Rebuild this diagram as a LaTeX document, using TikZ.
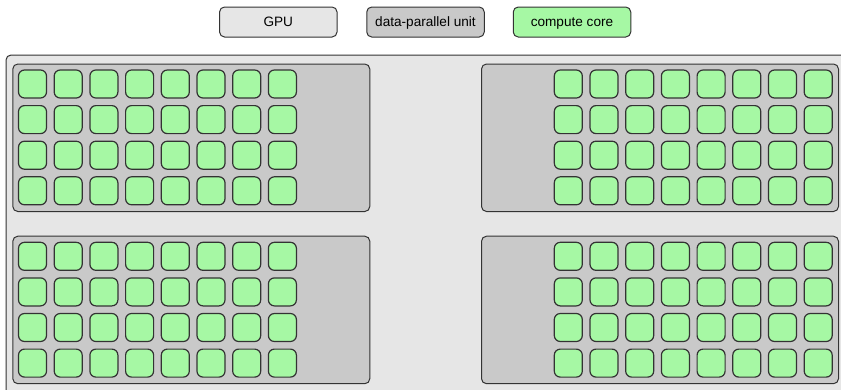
\documentclass[tikz,border=0pt]{standalone}
\usepackage{fontspec}
\setmainfont{Liberation Sans}
\definecolor{gpufill}{RGB}{230,230,230}
\definecolor{dpufill}{RGB}{201,201,201}
\definecolor{corefill}{RGB}{166,248,164}
\definecolor{edgecol}{RGB}{51,51,51}
\begin{document}
\begin{tikzpicture}[x=1pt,y=-1pt,
  box/.style={draw=edgecol, line width=1pt, rounded corners=5pt, inner sep=0pt},
  gpubox/.style={box, fill=gpufill},
  dpubox/.style={box, fill=dpufill, minimum width=357pt, minimum height=147.5pt, anchor=north west},
  corebox/.style={box, fill=corefill, minimum width=28pt, minimum height=28pt, rounded corners=6pt, line width=1.2pt},
  legendbox/.style={box, minimum width=117.5pt, minimum height=30pt, text height=9.8pt, text depth=0pt, font=\fontsize{13.6}{16}\selectfont}
]
\useasboundingbox (0,0) rectangle (841,389);
\fill[white] (0,0) rectangle (841,389);
\begin{scope}
\clip (0,0) rectangle (841,389);
% legend
\node[legendbox, fill=gpufill] (lgpu) at (278.3,22) {GPU};
\node[legendbox, fill=dpufill] (ldpu) at (425.5,22) {data-parallel unit};
\node[legendbox, fill=corefill] (lcore) at (572,22) {compute core};
% GPU
\node[gpubox, anchor=north west, minimum width=845pt, minimum height=345pt] (gpu) at (5.5,54.5) {};
% data-parallel units
\node[dpubox] (dputl) at (12.3,63.5) {};
\node[dpubox] (dputr) at (481,63.5) {};
\node[dpubox] (dpubl) at (12.3,235.7) {};
\node[dpubox] (dpubr) at (481,235.7) {};
% compute cores
\foreach \i in {0,...,7}{
  \foreach \j in {0,...,3}{
    \node[corebox] (tl-\i-\j) at ({32.5+35.7*\i},{84+35.6*\j}) {};
    \node[corebox] (tr-\i-\j) at ({568.3+35.7*\i},{84+35.6*\j}) {};
    \node[corebox] (bl-\i-\j) at ({32.5+35.7*\i},{256.3+35.6*\j}) {};
    \node[corebox] (br-\i-\j) at ({568.3+35.7*\i},{256.3+35.6*\j}) {};
  }
}
\end{scope}
\end{tikzpicture}
\end{document}
